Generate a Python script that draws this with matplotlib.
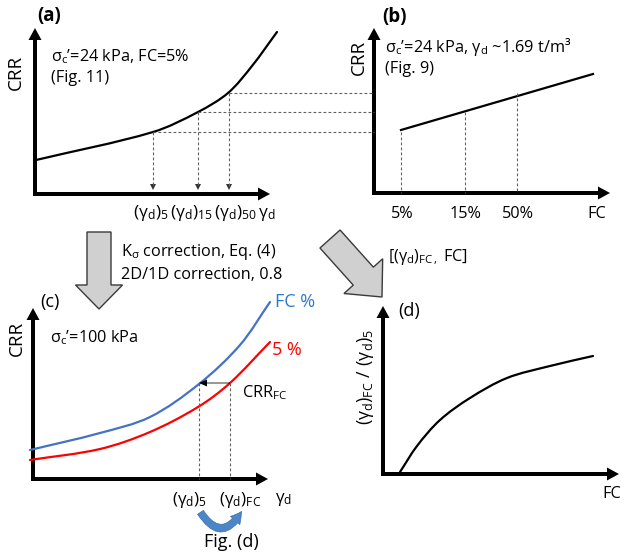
import matplotlib
matplotlib.use("Agg")
import math
import matplotlib.pyplot as plt
from matplotlib.patches import FancyArrow, FancyArrowPatch, PathPatch
from matplotlib.path import Path

plt.rcParams['font.family'] = ['Open Sans', 'DejaVu Sans']
plt.rcParams['mathtext.fontset'] = 'custom'
plt.rcParams['mathtext.rm'] = 'Open Sans'
plt.rcParams['mathtext.it'] = 'Open Sans:italic'
plt.rcParams['mathtext.bf'] = 'Open Sans:bold'

# ---------------- schematic data (canvas pixel units) -------------
# panel (a): CRR vs gamma_d at FC = 5 %
a_x = [36, 153, 198, 228, 252, 277]
a_y = [160, 132, 112, 93, 66, 32]
a_marks_x = [153, 198, 229]        # (gd)5, (gd)15, (gd)50
a_marks_y = [132, 112, 93]
# panel (b): CRR vs FC
b_x = [401, 593]
b_y = [130, 74]
b_marks_x = [401, 465, 517]        # 5 %, 15 %, 50 %
b_tick_labels = ['5%', '15%', '50%']
# panel (c): corrected curves
c_blue_x = [30, 100, 150, 199, 240, 270]
c_blue_y = [450, 433, 417, 384, 345, 302]
c_red_x = [30, 100, 150, 198, 230, 270]
c_red_y = [460, 449, 432, 407, 383, 342]
c_crr_fc = 383
c_gd5, c_gdfc = 199, 230
# panel (d): ratio vs FC
d_x = [400, 417, 440, 470, 507, 550, 593]
d_y = [472, 446, 420, 398, 378, 366, 356]

fig = plt.figure(figsize=(6.24, 5.58), dpi=100)
ax = fig.add_axes([0, 0, 1, 1])
ax.set_xlim(0, 624)
ax.set_ylim(558, 0)
ax.axis('off')

FS = 11.7
dash = dict(color='#606060', lw=0.8, ls=(0, (2.5, 2)))


def smooth(xs, ys, color, lw=1.6):
    """Smooth Bezier path through the points, chord-length scaled tangents."""
    pts = list(zip(xs, ys))
    n = len(pts)
    d = [math.dist(pts[i], pts[i + 1]) for i in range(n - 1)]
    tang = []
    for i in range(n):
        if i == 0:
            t = ((pts[1][0] - pts[0][0]) / d[0], (pts[1][1] - pts[0][1]) / d[0])
        elif i == n - 1:
            t = ((pts[-1][0] - pts[-2][0]) / d[-1], (pts[-1][1] - pts[-2][1]) / d[-1])
        else:
            s = d[i - 1] + d[i]
            t = ((pts[i + 1][0] - pts[i - 1][0]) / s, (pts[i + 1][1] - pts[i - 1][1]) / s)
        tang.append(t)
    verts = [pts[0]]
    codes = [Path.MOVETO]
    for i in range(n - 1):
        p1, p2 = pts[i], pts[i + 1]
        h = d[i] / 3
        c1 = (p1[0] + tang[i][0] * h, p1[1] + tang[i][1] * h)
        c2 = (p2[0] - tang[i + 1][0] * h, p2[1] - tang[i + 1][1] * h)
        verts += [c1, c2, p2]
        codes += [Path.CURVE4] * 3
    ax.add_patch(PathPatch(Path(verts, codes), facecolor='none', edgecolor=color,
                           lw=lw, capstyle='round'))


def axis_arrow(x0, y0, x1, y1):
    ax.add_patch(FancyArrow(x0, y0, x1 - x0, y1 - y0, width=4, head_width=13,
                            head_length=12, length_includes_head=True,
                            color='black', lw=0))


def L_axes(x0, ytop, ybot, xright):
    axis_arrow(x0, ybot, x0, ytop)
    axis_arrow(x0 - 2, ybot, xright, ybot)

# ---------------- panel (a) ----------------
L_axes(35, 28, 194, 270)
smooth(a_x, a_y, 'black')
for mx, my in zip(a_marks_x, a_marks_y):
    ax.plot([mx, mx], [my, 186], **dash)
    ax.add_patch(FancyArrow(mx, 183, 0, 7, width=0.1, head_width=6, head_length=6,
                            length_includes_head=True, color='#333333', lw=0))
    ax.plot([mx, 374], [my, my], **dash)
ax.text(37, 16, '(a)', fontsize=13.5, fontweight='bold', va='center', ha='left')
ax.text(16, 72, 'CRR', fontsize=13.5, rotation=90, va='center', ha='center')
ax.text(51, 57, r"$\mathrm{\sigma_c}$’=24 kPa, FC=5%", fontsize=FS, va='center')
ax.text(51, 78, '(Fig. 11)', fontsize=FS, va='center')
ax.text(133, 213, r'$\mathrm{(\gamma_d)_5\,(\gamma_d)_{15}\,(\gamma_d)_{50}\,\gamma_d}$',
        fontsize=12.5, va='center', ha='left')

# ---------------- panel (b) ----------------
L_axes(374, 28, 193, 610)
ax.plot(b_x, b_y, color='black', lw=1.6)
for mx, my in zip(b_marks_x, a_marks_y):
    ax.plot([mx, mx], [my, 193], **dash)
for mx, lab in zip(b_marks_x, b_tick_labels):
    ax.text(mx + 1, 214, lab, fontsize=FS, va='center', ha='center')
ax.text(597, 214, 'FC', fontsize=FS, va='center', ha='center')
ax.text(382, 17, '(b)', fontsize=13.5, fontweight='bold', va='center', ha='left')
ax.text(359, 57, 'CRR', fontsize=13.5, rotation=90, va='center', ha='center')
ax.text(385, 47, r"$\mathrm{\sigma_c}$’=24 kPa, $\mathrm{\gamma_d}$ ~1.69 t/m³",
        fontsize=FS, va='center')
ax.text(385, 69, '(Fig. 9)', fontsize=FS, va='center')

# ---------------- grey transition arrows ----------------
grey = dict(facecolor='#d0d0d0', edgecolor='#3a3a3a', lw=1.0)
ax.add_patch(FancyArrow(99, 232, 0, 77, width=24, head_width=47, head_length=24,
                        length_includes_head=True, **grey))
ax.text(121, 252, r'K$_\mathrm{\sigma}$ correction, Eq. (4)', fontsize=FS, va='center')
ax.text(121, 275, '2D/1D correction, 0.8', fontsize=FS, va='center')
ax.add_patch(FancyArrow(330, 239, 52, 58, width=27, head_width=52, head_length=28,
                        length_includes_head=True, **grey))
ax.text(388, 257, r'[$\mathrm{(\gamma_d)_{FC\,,}}$ FC]', fontsize=FS, va='center')

# ---------------- panel (c) ----------------
L_axes(33, 308, 479, 268)
smooth(c_blue_x, c_blue_y, '#4472c4')
smooth(c_red_x, c_red_y, '#ff0000')
ax.plot([c_gd5, c_gd5], [c_crr_fc, 479], **dash)
ax.plot([c_gdfc, c_gdfc], [c_crr_fc, 479], **dash)
ax.add_patch(FancyArrow(c_gdfc, c_crr_fc, c_gd5 - c_gdfc, 0, width=0.8, head_width=7,
                        head_length=8, length_includes_head=True, color='black', lw=0))
ax.text(275, 302, 'FC %', fontsize=13, color='#2a78cf', va='center')
ax.text(272, 350, '5 %', fontsize=13, color='#ff0000', va='center')
ax.text(242, 393, r'CRR$_\mathrm{FC}$', fontsize=FS, va='center')
ax.text(50, 338, r"$\mathrm{\sigma_c}$’=100 kPa", fontsize=FS, va='center')
ax.text(40, 302, '(c)', fontsize=13, va='center')
ax.text(17, 338, 'CRR', fontsize=13.5, rotation=90, va='center', ha='center')
ax.text(172, 500, r'$\mathrm{(\gamma_d)_5}$', fontsize=12.3, va='center')
ax.text(219, 500, r'$\mathrm{(\gamma_d)_{FC}}$', fontsize=12.3, va='center')
ax.text(275, 500, r'$\mathrm{\gamma_d}$', fontsize=12.3, va='center')
ax.add_patch(FancyArrowPatch((199, 510), (243, 509), connectionstyle='arc3,rad=0.85',
                             arrowstyle='simple,head_width=0.9,head_length=0.8,tail_width=0.5',
                             mutation_scale=10, facecolor='#4a86c8', edgecolor='#3b6fa8', lw=0.5))
ax.text(231, 542, 'Fig. (d)', fontsize=13, va='center', ha='center')

# ---------------- panel (d) ----------------
L_axes(383, 306, 474, 619)
smooth(d_x, d_y, 'black')
ax.text(398, 311, '(d)', fontsize=13, va='center')
ax.text(612, 494, 'FC', fontsize=FS, va='center', ha='center')
ax.text(365, 377, r'$\mathrm{(\gamma_d)_{FC}\ /\ (\gamma_d)_5}$', fontsize=12.8,
        rotation=90, va='center', ha='center')

fig.savefig('out.png', dpi=100)
